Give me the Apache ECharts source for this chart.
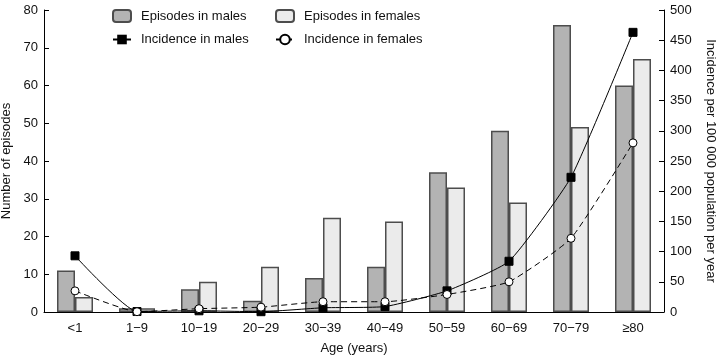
<!DOCTYPE html>
<html><head><meta charset="utf-8">
<script src="https://cdn.jsdelivr.net/npm/echarts@6/dist/echarts.min.js"></script>
<style>html,body{margin:0;padding:0;background:#fff}#c{width:720px;height:359px}</style>
</head><body><div id="c"></div>
<script>
const categories = ['<1','1\u22129','10\u221219','20\u221229','30\u221239','40\u221249','50\u221259','60\u221269','70\u221279','\u226580'];
const episodesMales = [11,1,6,3,9,12,37,48,76,60];
const episodesFemales = [4,1,8,12,25,24,33,29,49,67];
const incidenceMales = [93,0.8,2,0.5,7,9,35,84,223,463];
const incidenceFemales = [35,0.5,5.5,8,17,17,29,50,122,280];
const leftTicks = {min:0,max:80,interval:10};
const rightTicks = {min:0,max:500,interval:50};

const font = 'Liberation Sans, Arial, Helvetica, sans-serif';
const chart = echarts.init(document.getElementById('c'));
const txt = {color:'#111', fontFamily:font, fontSize:13};
const legTxt = Object.assign({padding:[0,0,0,5]}, txt);
chart.setOption({
  animation:false,
  textStyle:{fontFamily:font},
  grid:{left:44,right:56,top:10,bottom:47,containLabel:false,outerBoundsMode:'none'},
  legend:[
    {left:112,top:9,padding:0,orient:'vertical',itemGap:10,itemWidth:18,itemHeight:12,textStyle:legTxt,
     data:['Episodes in males','Incidence in males']},
    {left:275,top:9,padding:0,orient:'vertical',itemGap:10,itemWidth:18,itemHeight:12,textStyle:legTxt,
     data:['Episodes in females','Incidence in females']}
  ],
  xAxis:{type:'category',data:categories,boundaryGap:true,
    name:'Age (years)',nameLocation:'middle',nameGap:30,nameTextStyle:txt,
    axisLine:{lineStyle:{color:'#000',width:1}},
    axisTick:{inside:true,length:5,alignWithLabel:false,lineStyle:{color:'#000'}},
    axisLabel:Object.assign({margin:10},txt)},
  yAxis:[
    {type:'value',min:leftTicks.min,max:leftTicks.max,interval:leftTicks.interval,
     name:'Number of episodes',nameLocation:'middle',nameGap:30,nameTextStyle:txt,
     axisLine:{show:true,lineStyle:{color:'#000'}},
     axisTick:{show:true,inside:true,length:5,lineStyle:{color:'#000'}},
     splitLine:{show:false},axisLabel:Object.assign({margin:6},txt)},
    {type:'value',position:'right',min:rightTicks.min,max:rightTicks.max,interval:rightTicks.interval,
     name:'Incidence per 100 000 population per year',nameLocation:'middle',nameGap:40,nameRotate:-90,nameTextStyle:txt,
     axisLine:{show:true,lineStyle:{color:'#000'}},
     axisTick:{show:true,inside:true,length:5,lineStyle:{color:'#000'}},
     splitLine:{show:false},axisLabel:Object.assign({margin:6},txt)}
  ],
  series:[
    {name:'Episodes in males',type:'bar',data:episodesMales,barWidth:18,barGap:'0%',
     itemStyle:{color:'#b3b3b3',borderColor:'#4d4d4d',borderWidth:1.5}},
    {name:'Episodes in females',type:'bar',data:episodesFemales,barWidth:18,barGap:'0%',
     itemStyle:{color:'#ebebeb',borderColor:'#4d4d4d',borderWidth:1.5}},
    {name:'Incidence in males',type:'line',yAxisIndex:1,data:incidenceMales,smooth:0.15,z:5,
     symbol:'rect',symbolSize:8,
     lineStyle:{color:'#000',width:1},itemStyle:{color:'#000',borderColor:'#000'}},
    {name:'Incidence in females',type:'line',yAxisIndex:1,data:incidenceFemales,smooth:0.15,z:6,
     symbol:'circle',symbolSize:8,
     lineStyle:{color:'#000',width:1,type:[6,4]},itemStyle:{color:'#fff',borderColor:'#000',borderWidth:1}}
  ]
});
</script></body></html>
